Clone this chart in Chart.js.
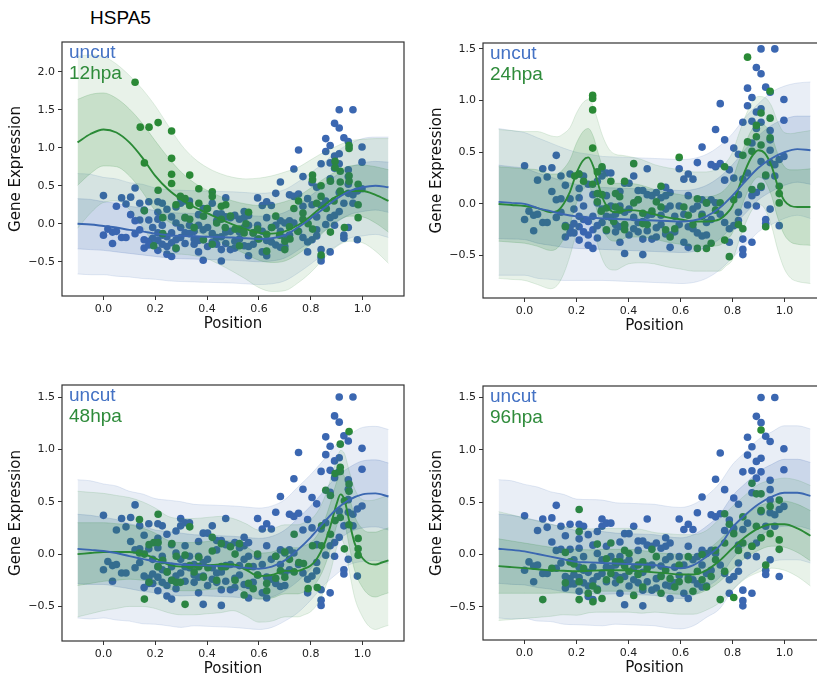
<!DOCTYPE html>
<html>
<head>
<meta charset="utf-8">
<script src="https://cdn.jsdelivr.net/npm/chart.js@4.4.0/dist/chart.umd.min.js"></script>
<style>
body{margin:0;width:817px;height:682px;overflow:hidden;background:#fff;position:relative}
canvas{position:absolute}
#title{position:absolute;left:90px;top:8px;font:19px "Liberation Sans",Arial,sans-serif;color:#000;line-height:20px}
</style>
</head>
<body>
<div id="title">HSPA5</div>
<canvas id="c1" width="410" height="308" style="left:0;top:32px"></canvas>
<canvas id="c2" width="411" height="309" style="left:421px;top:33px"></canvas>
<canvas id="c3" width="410" height="310" style="left:0;top:375px"></canvas>
<canvas id="c4" width="411" height="308" style="left:421px;top:376px"></canvas>
<script>
// ---- data ----
const xTicks = [0, 0.2, 0.4, 0.6, 0.8, 1.0];
const yTicksTop = [-0.5, 0, 0.5, 1, 1.5, 2];
const yTicks = [-0.5, 0, 0.5, 1, 1.5];

// x positions of the fitted curves
const gridX = [-0.1,-0.05,0,0.05,0.1,0.15,0.2,0.25,0.3,0.35,0.4,0.45,0.5,0.55,0.6,0.65,0.7,0.75,0.8,0.85,0.9,0.95,1.0,1.05,1.1];

// uncut cells (same cells in every panel)
const uncutPoints = [
 [0.0,0.37],[0.0,-0.15],[0.017,-0.07],[0.035,-0.11],[0.035,-0.26],[0.05,0.23],[0.05,-0.1],[0.07,0.34],[0.07,-0.18],
 [0.087,0.26],[0.087,-0.18],[0.105,0.12],[0.105,0.35],[0.122,0.47],[0.122,0.04],[0.122,-0.13],[0.14,0.27],[0.14,0.05],
 [0.14,-0.08],[0.157,0.18],[0.157,-0.21],[0.157,-0.32],[0.175,0.29],[0.175,0.05],[0.175,-0.23],[0.175,-0.28],[0.19,-0.19],
 [0.19,-0.28],[0.19,-0.05],[0.21,0.29],[0.21,0.15],[0.21,0.06],[0.21,-0.12],[0.21,-0.35],[0.21,-0.22],[0.227,0.27],
 [0.227,-0.02],[0.227,-0.27],[0.227,-0.15],[0.245,0.19],[0.245,-0.17],[0.245,-0.4],[0.245,-0.3],[0.263,0.09],[0.263,-0.12],
 [0.263,-0.43],[0.263,-0.25],[0.28,0.22],[0.28,0.01],[0.28,-0.21],[0.28,-0.33],[0.298,0.34],[0.298,0.27],[0.298,-0.05],
 [0.298,-0.18],[0.315,0.3],[0.315,0.08],[0.315,-0.26],[0.315,-0.12],[0.332,0.3],[0.332,-0.13],[0.332,-0.02],[0.35,-0.1],
 [0.35,-0.27],[0.35,-0.2],[0.367,0.12],[0.367,-0.02],[0.367,-0.37],[0.367,-0.22],[0.385,0.2],[0.385,-0.21],[0.385,-0.48],
 [0.385,-0.08],[0.402,0.2],[0.402,-0.05],[0.402,-0.3],[0.42,0.27],[0.42,-0.24],[0.42,-0.13],[0.437,0.13],[0.437,0.04],
 [0.437,-0.18],[0.437,-0.27],[0.455,0.13],[0.455,-0.49],[0.455,-0.34],[0.455,-0.17],[0.472,0.34],[0.472,0.09],[0.472,-0.11],
 [0.472,-0.26],[0.49,0.08],[0.49,-0.34],[0.49,-0.1],[0.507,0.11],[0.507,-0.23],[0.507,-0.32],[0.525,0.06],[0.525,-0.11],
 [0.525,-0.2],[0.543,0.16],[0.543,0.08],[0.543,-0.29],[0.543,-0.05],[0.56,0.11],[0.56,-0.02],[0.56,-0.42],[0.56,-0.3],
 [0.578,-0.27],[0.578,-0.12],[0.595,0.34],[0.595,-0.02],[0.595,-0.2],[0.613,0.24],[0.613,-0.37],[0.613,-0.1],[0.63,0.29],
 [0.63,0.08],[0.63,-0.42],[0.63,-0.22],[0.648,0.24],[0.648,-0.24],[0.648,-0.05],[0.665,0.4],[0.665,-0.02],[0.665,-0.28],
 [0.683,0.55],[0.683,0.04],[0.683,-0.31],[0.683,-0.1],[0.70,0.01],[0.70,-0.18],[0.70,-0.3],[0.718,0.38],[0.718,0.04],
 [0.718,-0.15],[0.735,0.72],[0.735,0.36],[0.735,0.01],[0.753,0.97],[0.753,0.39],[0.753,-0.1],[0.77,0.62],[0.77,0.23],
 [0.77,-0.18],[0.788,0.33],[0.788,-0.24],[0.788,-0.37],[0.805,0.54],[0.805,0.25],[0.805,-0.21],[0.823,0.48],[0.823,0.09],
 [0.823,-0.08],[0.823,-0.16],[0.84,0.79],[0.84,0.24],[0.84,-0.34],[0.84,-0.44],[0.84,-0.49],[0.858,1.12],[0.858,0.95],
 [0.858,0.3],[0.858,-0.01],[0.875,1.03],[0.875,0.8],[0.875,0.59],[0.875,0.08],[0.875,-0.37],[0.892,1.32],[0.892,0.89],
 [0.892,0.73],[0.892,0.11],[0.892,-0.02],[0.91,1.5],[0.91,1.26],[0.91,0.92],[0.91,0.79],[0.91,0.41],[0.91,0.16],
 [0.928,1.13],[0.928,0.27],[0.928,-0.15],[0.928,-0.19],[0.945,1.08],[0.945,0.71],[0.945,0.62],[0.945,0.52],[0.945,0.4],
 [0.945,-0.05],[0.963,1.5],[0.963,0.38],[0.963,0.27],[0.98,0.43],[0.98,-0.21],[0.998,1.01],[0.998,0.81],[0.998,0.46]
];

// panel 1: 12hpa
const hpa12Points = [
 [0.122,1.86],[0.142,1.27],[0.176,1.27],[0.211,1.33],[0.263,1.22],[0.263,0.86],[0.263,0.65],[0.263,0.53],[0.158,0.80],
 [0.211,0.44],[0.158,0.17],[0.194,-0.29],[0.229,0.08],[0.229,-0.13],[0.28,0.25],[0.28,-0.32],[0.297,0.36],[0.315,0.33],
 [0.315,0.08],[0.333,0.64],[0.333,0.24],[0.333,0.06],[0.35,-0.05],[0.368,0.46],[0.368,0.27],[0.386,0.1],[0.386,-0.21],
 [0.42,0.42],[0.42,0.36],[0.42,-0.27],[0.437,0.01],[0.455,0.23],[0.455,0.06],[0.472,0.25],[0.49,0.1],[0.508,-0.07],
 [0.525,-0.07],[0.525,-0.29],[0.543,-0.12],[0.56,0.15],[0.578,-0.12],[0.595,-0.07],[0.63,-0.14],[0.63,-0.36],[0.665,0.1],
 [0.70,-0.23],[0.70,-0.34],[0.718,-0.04],[0.735,0.2],[0.753,0.3],[0.77,0.14],[0.77,0.06],[0.807,0.64],[0.807,0.58],
 [0.807,-0.07],[0.84,0.5],[0.84,0.36],[0.84,-0.41],[0.876,0.56],[0.876,-0.11],[0.894,0.82],[0.894,0.74],[0.914,0.69],
 [0.914,0.55],[0.914,0.43],[0.948,1.03],[0.948,0.99],[0.948,0.63],[0.948,0.56],[0.93,-0.05],[0.983,0.52],[0.983,0.25],
 [0.983,0.08],[0.6,-0.2],[0.65,-0.05],[0.68,-0.15],[0.72,-0.2],[0.55,0.0],[0.47,-0.05],[0.4,0.2],[0.86,0.2],[0.89,0.3],
 [0.79,0.0],[0.75,-0.1],[0.823,0.27]
];
const uncutMean1 = [0.0,-0.01,-0.03,-0.05,-0.08,-0.1,-0.13,-0.15,-0.16,-0.165,-0.17,-0.175,-0.18,-0.19,-0.2,-0.19,-0.15,-0.05,0.07,0.2,0.33,0.43,0.48,0.5,0.48];
const uncutSd1 = [0.33,0.33,0.32,0.32,0.31,0.31,0.3,0.3,0.3,0.3,0.3,0.3,0.3,0.3,0.3,0.3,0.3,0.3,0.3,0.3,0.31,0.31,0.32,0.32,0.33];
const hpa12Mean = [1.07,1.18,1.24,1.2,1.07,0.87,0.63,0.45,0.32,0.22,0.14,0.06,-0.01,-0.07,-0.12,-0.13,-0.1,-0.02,0.1,0.24,0.36,0.43,0.43,0.38,0.3];
const hpa12Sd = [0.565,0.52,0.48,0.45,0.44,0.45,0.46,0.42,0.36,0.32,0.3,0.3,0.31,0.33,0.36,0.38,0.39,0.38,0.37,0.35,0.33,0.33,0.34,0.37,0.41];

// panel 2: 24hpa
const hpa24Points = [
 [0.262,1.05],[0.262,1.02],[0.262,0.91],[0.262,0.54],[0.157,-0.22],[0.193,0.27],[0.209,0.29],[0.227,0.22],[0.262,0.19],
 [0.28,0.31],[0.298,0.36],[0.28,0.1],[0.28,0.02],[0.298,0.09],[0.315,-0.04],[0.332,0.22],[0.35,0.1],[0.35,-0.03],
 [0.367,-0.06],[0.385,0.22],[0.385,-0.25],[0.385,-0.2],[0.42,0.39],[0.42,0.01],[0.437,0.04],[0.455,-0.09],[0.472,-0.2],
 [0.49,-0.07],[0.525,0.17],[0.525,-0.03],[0.543,-0.25],[0.56,-0.32],[0.595,0.45],[0.613,-0.03],[0.63,-0.11],[0.665,0.05],
 [0.665,-0.43],[0.683,-0.12],[0.70,0.01],[0.70,-0.43],[0.718,-0.38],[0.735,-0.06],[0.753,0.01],[0.77,0.36],[0.77,-0.35],
 [0.788,-0.51],[0.805,0.04],[0.823,-0.2],[0.84,-0.24],[0.84,0.47],[0.858,1.42],[0.858,0.6],[0.875,0.51],[0.875,0.14],
 [0.892,0.76],[0.892,0.65],[0.91,0.88],[0.91,0.57],[0.91,0.17],[0.928,0.28],[0.928,-0.22],[0.945,1.09],[0.945,0.83],
 [0.945,0.64],[0.98,0.17],[0.98,0.01],[0.98,0.1],[0.455,-0.19],[0.507,0.02],[0.578,-0.24],[0.648,-0.2],[0.343,-0.17],
 [0.315,-0.25],[0.366,0.07],[0.295,-0.07]
];
const uncutMean2 = [0.02,0.01,0.0,-0.04,-0.07,-0.1,-0.12,-0.13,-0.14,-0.145,-0.15,-0.155,-0.16,-0.165,-0.17,-0.16,-0.12,-0.04,0.08,0.22,0.35,0.44,0.5,0.53,0.52];
const uncutSd2 = [0.355,0.35,0.345,0.34,0.33,0.32,0.31,0.305,0.3,0.3,0.3,0.3,0.3,0.3,0.3,0.3,0.3,0.3,0.3,0.31,0.31,0.32,0.32,0.32,0.33];
const hpa24X = [-0.1,-0.05,0,0.05,0.1,0.125,0.15,0.175,0.2,0.225,0.245,0.265,0.28,0.3,0.325,0.35,0.375,0.4,0.45,0.5,0.55,0.6,0.65,0.7,0.75,0.775,0.8,0.825,0.85,0.875,0.9,0.925,0.95,0.975,1.0,1.025,1.05,1.1];
const hpa24Mean = [0.0,-0.01,-0.02,-0.04,-0.08,-0.07,0.0,0.12,0.3,0.42,0.45,0.36,0.22,0.06,-0.05,-0.08,-0.07,-0.06,-0.07,-0.1,-0.13,-0.15,-0.17,-0.17,-0.15,-0.1,-0.02,0.16,0.33,0.46,0.52,0.49,0.37,0.17,0.03,-0.02,-0.03,-0.03];
const hpa24Sd = [0.36,0.36,0.36,0.37,0.37,0.36,0.34,0.31,0.29,0.28,0.28,0.29,0.3,0.3,0.29,0.28,0.27,0.26,0.25,0.24,0.24,0.24,0.24,0.24,0.25,0.25,0.26,0.26,0.26,0.26,0.26,0.27,0.29,0.31,0.33,0.35,0.36,0.37];

// panel 3: 48hpa
const hpa48Points = [
 [0.139,0.33],[0.139,0.01],[0.158,0.0],[0.158,-0.43],[0.176,0.09],[0.176,-0.27],[0.194,0.11],[0.211,0.38],[0.211,0.11],
 [0.211,-0.12],[0.229,-0.06],[0.246,-0.17],[0.264,0.1],[0.264,-0.25],[0.281,-0.02],[0.281,-0.27],[0.297,-0.27],
 [0.315,-0.48],[0.315,-0.01],[0.333,0.26],[0.333,-0.11],[0.35,-0.17],[0.368,-0.03],[0.386,-0.22],[0.403,-0.13],
 [0.42,0.16],[0.42,0.03],[0.437,-0.25],[0.455,0.1],[0.455,-0.12],[0.472,-0.12],[0.49,0.07],[0.508,-0.25],[0.525,0.1],
 [0.543,-0.39],[0.56,-0.28],[0.578,-0.33],[0.595,-0.2],[0.63,-0.28],[0.63,-0.35],[0.665,-0.02],[0.683,-0.16],[0.70,-0.22],
 [0.718,-0.05],[0.736,0.19],[0.736,-0.17],[0.754,-0.08],[0.772,-0.09],[0.79,-0.33],[0.807,0.08],[0.825,-0.32],[0.842,0.27],
 [0.842,0.08],[0.858,0.61],[0.876,0.56],[0.876,0.19],[0.894,0.77],[0.894,0.32],[0.914,1.05],[0.914,0.83],[0.914,0.79],
 [0.93,0.51],[0.93,0.05],[0.948,1.17],[0.948,0.67],[0.948,0.6],[0.948,0.28],[0.983,0.15],[0.983,0.05],[0.983,-0.01],
 [0.914,0.35],[0.368,-0.12],[0.508,0.0],[0.56,-0.12],[0.595,0.0],[0.70,0.02],[0.665,-0.23]
];
const uncutMean3 = [0.05,0.04,0.03,0.01,-0.02,-0.045,-0.07,-0.085,-0.1,-0.105,-0.11,-0.115,-0.12,-0.13,-0.14,-0.12,-0.06,0.04,0.16,0.3,0.43,0.52,0.57,0.58,0.55];
const uncutSd3 = [0.33,0.33,0.32,0.32,0.31,0.31,0.3,0.3,0.3,0.29,0.29,0.29,0.29,0.29,0.29,0.29,0.29,0.3,0.3,0.3,0.31,0.31,0.32,0.32,0.32];
const hpa48X = [-0.1,-0.05,0,0.05,0.1,0.15,0.2,0.25,0.3,0.35,0.4,0.45,0.5,0.55,0.6,0.65,0.7,0.75,0.775,0.8,0.825,0.85,0.875,0.9,0.915,0.93,0.95,0.97,1.0,1.025,1.05,1.075,1.1];
const hpa48Mean = [0.0,0.01,0.02,0.02,0.02,0.0,-0.04,-0.1,-0.12,-0.12,-0.11,-0.1,-0.1,-0.15,-0.21,-0.2,-0.16,-0.16,-0.14,-0.11,-0.04,0.08,0.26,0.48,0.57,0.52,0.3,0.1,-0.04,-0.09,-0.1,-0.08,-0.06];
const hpa48Sd = [0.3,0.29,0.28,0.27,0.26,0.25,0.24,0.23,0.23,0.23,0.23,0.23,0.22,0.22,0.22,0.22,0.22,0.22,0.22,0.22,0.22,0.22,0.22,0.21,0.21,0.22,0.24,0.26,0.28,0.3,0.31,0.31,0.31];

// panel 4: 96hpa
const hpa96Points = [
 [0.07,-0.43],[0.105,-0.13],[0.157,0.02],[0.157,-0.27],[0.175,-0.07],[0.19,-0.09],[0.21,0.43],[0.21,0.22],[0.21,-0.26],
 [0.21,-0.43],[0.227,-0.13],[0.245,-0.37],[0.263,-0.45],[0.263,-0.3],[0.28,0.1],[0.28,-0.34],[0.298,-0.42],[0.315,-0.04],
 [0.332,0.11],[0.332,-0.18],[0.35,-0.07],[0.367,-0.24],[0.385,0.04],[0.385,-0.11],[0.402,-0.16],[0.42,-0.39],[0.437,-0.19],
 [0.455,-0.31],[0.472,-0.13],[0.49,0.05],[0.507,-0.02],[0.525,-0.37],[0.543,-0.15],[0.56,-0.23],[0.578,-0.31],[0.595,-0.1],
 [0.63,-0.02],[0.63,-0.24],[0.648,-0.35],[0.665,-0.16],[0.683,0.0],[0.70,-0.31],[0.718,-0.21],[0.735,-0.05],[0.753,-0.43],
 [0.77,0.39],[0.77,0.11],[0.77,-0.16],[0.788,0.29],[0.805,-0.41],[0.805,0.2],[0.823,0.04],[0.84,0.36],[0.84,0.11],
 [0.875,0.68],[0.875,0.08],[0.892,0.58],[0.892,0.27],[0.91,1.19],[0.91,0.58],[0.91,0.42],[0.91,0.16],[0.928,-0.1],
 [0.945,0.46],[0.945,0.2],[0.98,0.52],[0.98,0.14],[0.98,0.05],[0.402,0.01],[0.455,-0.07],[0.525,-0.21],[0.595,-0.26],
 [0.315,-0.24],[0.367,-0.07],[0.437,-0.1],[0.683,-0.24],[0.735,0.04]
];
const uncutMean4 = [0.055,0.045,0.03,0.005,-0.02,-0.045,-0.07,-0.075,-0.08,-0.085,-0.09,-0.095,-0.1,-0.12,-0.13,-0.1,-0.02,0.08,0.26,0.38,0.48,0.55,0.59,0.59,0.56];
const uncutSd4 = [0.33,0.33,0.32,0.32,0.31,0.31,0.3,0.3,0.3,0.29,0.29,0.29,0.29,0.29,0.29,0.29,0.29,0.3,0.3,0.3,0.31,0.31,0.32,0.32,0.32];
const hpa96Mean = [-0.11,-0.12,-0.13,-0.14,-0.15,-0.155,-0.16,-0.155,-0.15,-0.15,-0.15,-0.16,-0.17,-0.18,-0.19,-0.19,-0.15,-0.06,0.06,0.17,0.25,0.29,0.29,0.25,0.18];
const hpa96Sd = [0.26,0.25,0.24,0.23,0.22,0.21,0.21,0.2,0.2,0.2,0.2,0.2,0.19,0.19,0.19,0.19,0.19,0.2,0.2,0.2,0.21,0.21,0.22,0.23,0.24];

// ---- drawing ----
const BLUE = [59, 103, 177];
const GREEN = [42, 138, 54];
const rgba = (c, a) => `rgba(${c[0]},${c[1]},${c[2]},${a})`;
const fmt = v => (v < 0 ? '\u2212' : '') + Math.abs(v).toFixed(1);

function band(xs, mean, sd, k, col, alpha, order) {
  const common = {
    type: 'line', pointRadius: 0, borderWidth: 0.8, borderColor: rgba(col, alpha + 0.06),
    cubicInterpolationMode: 'monotone', order: order
  };
  return [
    Object.assign({}, common, { data: xs.map((x, i) => ({ x: x, y: mean[i] - k * sd[i] })), fill: false }),
    Object.assign({}, common, { data: xs.map((x, i) => ({ x: x, y: mean[i] + k * sd[i] })), fill: '-1', backgroundColor: rgba(col, alpha) })
  ];
}

function meanLine(xs, mean, col) {
  return {
    type: 'line', data: xs.map((x, i) => ({ x: x, y: mean[i] })), borderColor: rgba(col, 1),
    borderWidth: 1.9, pointRadius: 0, fill: false, cubicInterpolationMode: 'monotone', order: 1
  };
}

function dots(pts, col, order) {
  return {
    type: 'scatter', data: pts.map(p => ({ x: p[0], y: p[1] })), backgroundColor: rgba(col, 1),
    pointRadius: 3.8, pointBorderWidth: 0, borderWidth: 0, order: order
  };
}

const framePlugin = {
  id: 'frame',
  afterDraw(chart, args, opts) {
    const { ctx, chartArea: a } = chart;
    ctx.save();
    ctx.strokeStyle = '#333';
    ctx.lineWidth = 1.2;
    ctx.strokeRect(a.left, a.top, a.right - a.left, a.bottom - a.top);
    ctx.font = '19px "Liberation Sans", Arial, sans-serif';
    ctx.textBaseline = 'alphabetic';
    ctx.fillStyle = '#4472c4';
    ctx.fillText('uncut', a.left + 7, a.top + 16);
    ctx.fillStyle = '#2e8b3a';
    ctx.fillText(opts.label, a.left + 7, a.top + 37);
    ctx.restore();
  }
};

function makeChart(id, label, yMin, yMax, yTickVals, uncutMean, uncutSd, gx, gMean, gSd, gPoints) {
  const datasets = [
    dots(uncutPoints, BLUE, 20),
    dots(gPoints, GREEN, 19)
  ]
    .concat(band(gridX, uncutMean, uncutSd, 2, BLUE, 0.11, 10))
    .concat(band(gridX, uncutMean, uncutSd, 1, BLUE, 0.17, 9))
    .concat(band(gx, gMean, gSd, 2, GREEN, 0.11, 8))
    .concat(band(gx, gMean, gSd, 1, GREEN, 0.17, 7))
    .concat([meanLine(gridX, uncutMean, BLUE), meanLine(gx, gMean, GREEN)]);

  const tickFont = { family: 'DejaVu Sans', size: 11 };
  const titleFont = { family: 'DejaVu Sans', size: 15 };

  return new Chart(document.getElementById(id).getContext('2d'), {
    type: 'line',
    data: { datasets: datasets },
    options: {
      responsive: false,
      animation: false,
      events: [],
      layout: { padding: { top: 10, right: 6, left: 0, bottom: 0 } },
      plugins: {
        legend: { display: false },
        tooltip: { enabled: false },
        filler: { drawTime: 'beforeDatasetDraw', propagate: false },
        frame: { label: label }
      },
      scales: {
        x: {
          type: 'linear', min: -0.16, max: 1.16,
          afterBuildTicks: s => { s.ticks = xTicks.map(v => ({ value: v })); },
          afterFit: s => { s.height = 44; },
          grid: { drawOnChartArea: false, tickLength: 4, color: '#333' },
          border: { display: false },
          ticks: { font: tickFont, color: '#222', padding: 3, maxRotation: 0, callback: v => fmt(v) },
          title: { display: true, text: 'Position', font: titleFont, color: '#111', padding: { top: 0, bottom: 7 } }
        },
        y: {
          type: 'linear', min: yMin, max: yMax,
          afterBuildTicks: s => { s.ticks = yTickVals.map(v => ({ value: v })); },
          afterFit: s => { s.width = 62; },
          grid: { drawOnChartArea: false, tickLength: 4, color: '#333' },
          border: { display: false },
          ticks: { font: tickFont, color: '#222', padding: 3, callback: v => fmt(v) },
          title: { display: true, text: 'Gene Expression', font: titleFont, color: '#111', padding: { top: 7, bottom: 0 } }
        }
      }
    },
    plugins: [framePlugin]
  });
}

makeChart('c1', '12hpa', -0.95, 2.39, yTicksTop, uncutMean1, uncutSd1, gridX, hpa12Mean, hpa12Sd, hpa12Points);
makeChart('c2', '24hpa', -0.91, 1.557, yTicks, uncutMean2, uncutSd2, hpa24X, hpa24Mean, hpa24Sd, hpa24Points);
makeChart('c3', '48hpa', -0.83, 1.615, yTicks, uncutMean3, uncutSd3, hpa48X, hpa48Mean, hpa48Sd, hpa48Points);
makeChart('c4', '96hpa', -0.816, 1.61, yTicks, uncutMean4, uncutSd4, gridX, hpa96Mean, hpa96Sd, hpa96Points);
</script>
</body>
</html>
